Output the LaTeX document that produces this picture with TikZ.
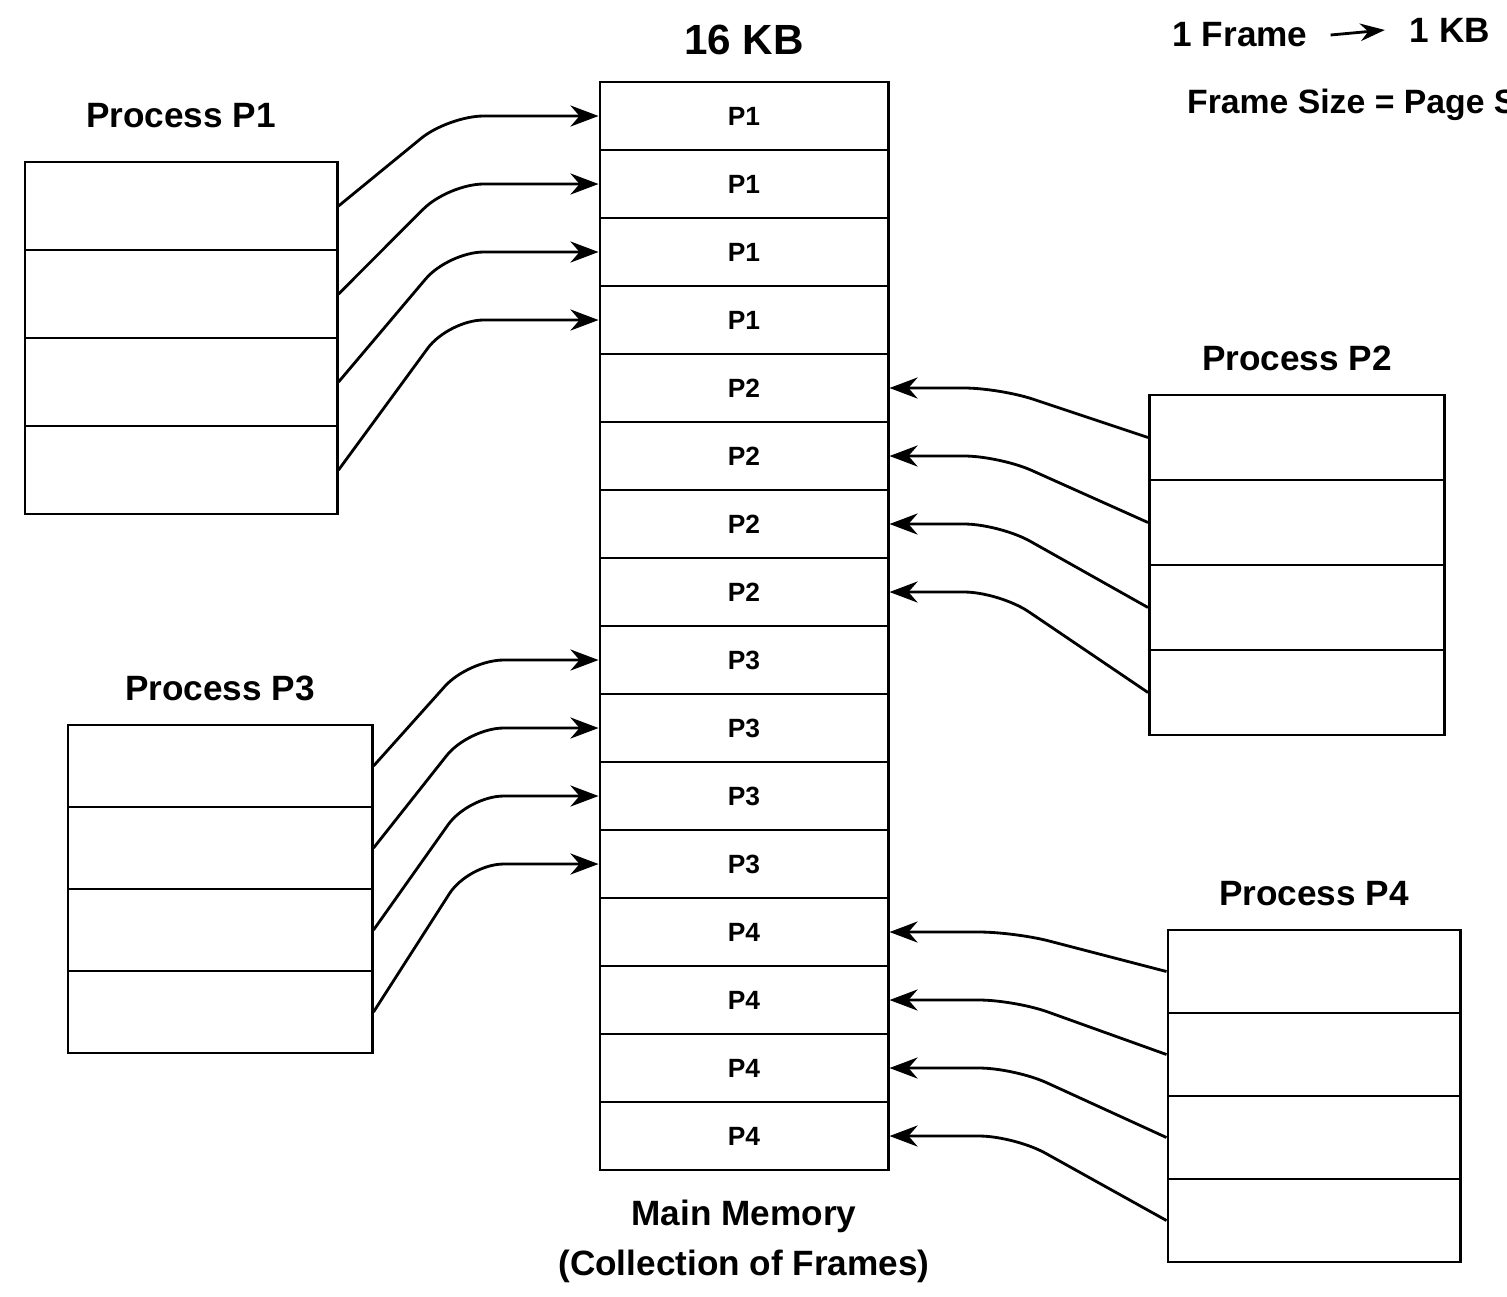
\documentclass[tikz,border=0pt]{standalone}
\usepackage{fontspec}
\setmainfont{Liberation Sans}
\usetikzlibrary{positioning,arrows.meta}

\begin{document}
\begin{tikzpicture}[x=0.01cm,y=-0.01cm,line width=0.8pt,
    frm/.style={draw,minimum width=2.88cm,minimum height=0.68cm,inner sep=0pt,font=\fontsize{7.5}{9}\selectfont\bfseries},
    pg/.style 2 args={draw,inner sep=0pt,minimum width=#1,minimum height=#2},
    ttl/.style={font=\fontsize{10}{12}\selectfont\bfseries},
    lnk/.style={-{Stealth[length=8pt,width=6pt]},rounded corners=10pt}]

\useasboundingbox (0,0) rectangle (1507,1296);

% main memory, 16 frames
\foreach \i in {1,...,16}{
  \pgfmathtruncatemacro\p{(\i-1)/4+1}
  \node[frm] (m\i) at (744,{48+68*\i}) {P\p};
}
\node[font=\fontsize{12}{14}\selectfont\bfseries,above=0.13cm of m1] (kb16) {16 KB};
\node[ttl,below=0.15cm of m16] (mm) {Main Memory};
\node[ttl] (coll) at (mm |- 0,1266) {(Collection of Frames)};

% processes
\foreach \i in {1,...,4}{
  \node[pg={3.12cm}{0.88cm}] (a\i) at (181,{118+88*\i}) {};
  \node[pg={2.95cm}{0.85cm}] (b\i) at (1297,{352.5+85*\i}) {};
  \node[pg={3.04cm}{0.82cm}] (c\i) at (220,{684+82*\i}) {};
  \node[pg={2.92cm}{0.83cm}] (d\i) at (1314,{888.5+83*\i}) {};
}
\node[ttl,above=0.2cm of a1] (pa) {Process P1};
\node[ttl,above=0.1cm of b1] (pb) {Process P2};
\node[ttl,above=0.1cm of c1] (pc) {Process P3};
\node[ttl,above=0.1cm of d1] (pd) {Process P4};

% page -> frame
\foreach \i in {1,...,4}{
  \pgfmathtruncatemacro\ja{\i}
  \pgfmathtruncatemacro\jb{\i+4}
  \pgfmathtruncatemacro\jc{\i+8}
  \pgfmathtruncatemacro\jd{\i+12}
  \draw[lnk] (a\i.east) -- ([xshift=-1.5cm]m\ja.west) -- (m\ja.west);
  \draw[lnk] (b\i.west) -- ([xshift=1.1cm]m\jb.east) -- (m\jb.east);
  \draw[lnk] (c\i.east) -- ([xshift=-1.3cm]m\jc.west) -- (m\jc.west);
  \draw[lnk] (d\i.west) -- ([xshift=1.25cm]m\jd.east) -- (m\jd.east);
}

% legend
\node[ttl] (fr) at (1240,35) {1 Frame};
\node[ttl] (kb) at (1450,30) {1 KB};
\draw[-{Stealth[length=7pt,width=5pt]}] ([xshift=0.1cm]fr.east) -- ([xshift=-0.12cm]kb.west);
\node[ttl,font=\fontsize{9.6}{12}\selectfont\bfseries,anchor=west] (fs) at (1174,105) {Frame Size = Page Size};

\end{tikzpicture}
\end{document}
